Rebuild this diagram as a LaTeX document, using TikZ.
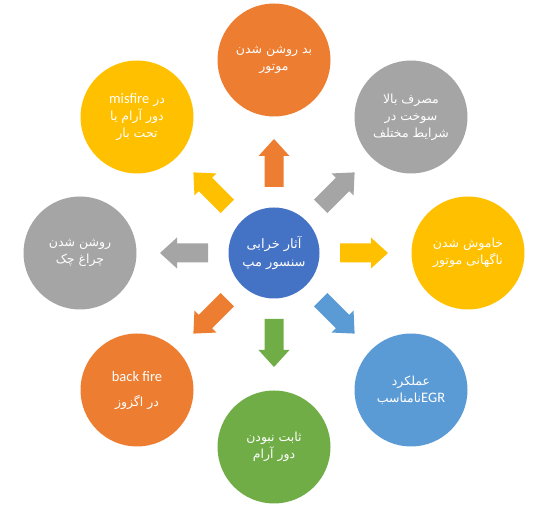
\documentclass[tikz,border=0pt]{standalone}
\usepackage{fontspec}
\setmainfont{Carlito}
\newfontfamily\fa[Script=Arabic]{DejaVu Sans}
\newfontfamily\lat{Carlito}
\TeXXeTstate=1
\definecolor{orng}{HTML}{ED7D31}
\definecolor{gry}{HTML}{A5A5A5}
\definecolor{gold}{HTML}{FFC000}
\definecolor{cblue}{HTML}{4472C4}
\definecolor{lblue}{HTML}{5B9BD5}
\definecolor{grn}{HTML}{70AD47}
\newcommand\rl[1]{\beginR #1\endR}
\newcommand\la[1]{\beginL{\lat\fontsize{14.5}{16}\selectfont #1}\endL}
\begin{document}
\begin{tikzpicture}[x=1pt,y=1pt,
  bub/.style={circle, minimum size=113pt, inner sep=0pt, fill=#1, text=white,
    align=center, font=\fa\fontsize{12.5}{17}\selectfont},
  ctr/.style={circle, minimum size=91pt, inner sep=0pt, fill=cblue, text=white,
    align=center, font=\fa\fontsize{13}{18}\selectfont}]
\useasboundingbox (0,0) rectangle (547,506);
\node[ctr] (c) at (274,253) {\rl{آثار خرابی}\\\rl{سنسور مپ}};
\node[bub=orng] (t) at (274,446) {\rl{بد روشن شدن}\\\rl{موتور}};
\node[bub=gry] (tr) at (411,389) {\rl{مصرف بالا}\\\rl{سوخت در}\\\rl{شرایط مختلف}};
\node[bub=gold] (r) at (468,253) {\rl{خاموش شدن}\\\rl{ناگهانی موتور}};
\node[bub=lblue] (br) at (411,116) {\rl{عملکرد}\\\rl{\la{EGR}نامناسب}};
\node[bub=grn] (b) at (274,59) {\rl{ثابت نبودن}\\\rl{دور آرام}};
\node[bub=orng, font=\fa\fontsize{12.5}{25}\selectfont] (bl) at (137,116) {{\lat\fontsize{14.5}{16}\selectfont back fire}\\\rl{در اگزوز}};
\node[bub=gry] (l) at (80,253) {\rl{روشن شدن}\\\rl{چراغ چک}};
\node[bub=gold] (tl) at (137,389) {\rl{در \la{misfire}}\\\rl{دور آرام یا}\\\rl{تحت بار}};
\foreach \a/\col in {90/orng,45/gry,0/gold,-45/lblue,-90/grn,-135/orng,180/gry,135/gold}{
  \fill[\col, shift={(c.center)}, rotate=\a]
    (66,-9.5) -- (97,-9.5) -- (97,-15.5) -- (114,0) -- (97,15.5) -- (97,9.5) -- (66,9.5) -- cycle;
}
\end{tikzpicture}
\end{document}
